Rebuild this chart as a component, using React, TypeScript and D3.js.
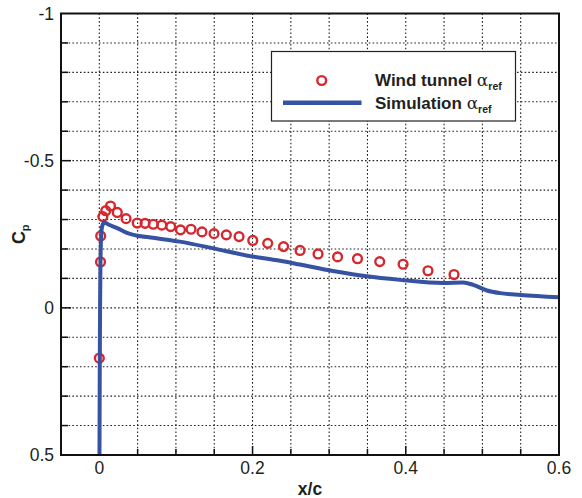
import React from "react";
import * as d3 from "d3";

const windX = [0.0, 0.0016, 0.0018, 0.0046, 0.0084, 0.0146, 0.0235, 0.0349, 0.0495, 0.0597, 0.0704, 0.0816, 0.0932, 0.106, 0.1197, 0.134, 0.1497, 0.1658, 0.1824, 0.2003, 0.2198, 0.2405, 0.262, 0.2855, 0.311, 0.337, 0.366, 0.3965, 0.429, 0.463];
const windCp = [0.171, -0.156, -0.244, -0.31, -0.33, -0.346, -0.324, -0.303, -0.288, -0.287, -0.284, -0.281, -0.276, -0.265, -0.267, -0.258, -0.252, -0.248, -0.242, -0.229, -0.219, -0.208, -0.195, -0.183, -0.173, -0.167, -0.157, -0.148, -0.126, -0.113];

const simX = [0.0002, 0.0006, 0.001, 0.0015, 0.0025, 0.004, 0.007, 0.012, 0.024, 0.038, 0.048, 0.07, 0.105, 0.149, 0.192, 0.236, 0.262, 0.305, 0.349, 0.3925, 0.449, 0.475, 0.488, 0.506, 0.523, 0.55, 0.6];
const simCp = [0.52, 0.2, 0.0, -0.15, -0.25, -0.28, -0.29, -0.283, -0.27, -0.253, -0.246, -0.238, -0.225, -0.202, -0.178, -0.16, -0.147, -0.125, -0.107, -0.095, -0.084, -0.086, -0.078, -0.059, -0.05, -0.044, -0.036];

const xTickLabels = [0, 0.2, 0.4, 0.6];
const yTickLabels = [-1, -0.5, 0, 0.5];
const legendLabels = ["Wind tunnel ", "Simulation "];

const W = 582, H = 498;
const L = 61, R = 559, T = 13.5, B = 455;
const RED = "#d6262e";
const BLUE = "#3552a3";
const TXT = "#231f20";

export default function App() {
  const x = d3.scaleLinear().domain([-0.05, 0.6]).range([L, R]);
  const y = d3.scaleLinear().domain([-1, 0.5]).range([T, B]);
  const xGrid = d3.range(0, 0.6 + 1e-9, 0.05).map((v) => +v.toFixed(2)).filter((v) => v < 0.599);
  const yGrid = d3.range(-0.9, 0.5 - 1e-9, 0.1).map((v) => +v.toFixed(2));
  const yMinor = yGrid.filter((v) => Math.abs(v * 2 - Math.round(v * 2)) > 1e-6);
  const yMajor = [-0.5, 0];
  const xMinor = d3.range(0.05, 0.6, 0.05).map((v) => +v.toFixed(2)).filter((v) => Math.abs(v * 5 - Math.round(v * 5)) > 1e-6);
  const xMajor = [0, 0.2, 0.4];

  const simData = simX.map((v, i) => [v, simCp[i]] as [number, number]);
  const line = d3.line<[number, number]>().x((d) => x(d[0])).y((d) => y(d[1])).curve(d3.curveMonotoneX);

  return (
    <svg width={W} height={H} style={{ position: "absolute", left: 0, top: 0, background: "#fff" }} fontFamily="Liberation Sans, Arial, sans-serif">
      <defs>
        <clipPath id="plot">
          <rect x={L} y={T} width={R - L} height={B - T} />
        </clipPath>
      </defs>
      <rect x={0} y={0} width={W} height={H} fill="#fff" />
      <g stroke="#222" strokeWidth={1.1} strokeDasharray="1.6,2.2">
        {xGrid.map((v) => (
          <line key={"gx" + v} x1={x(v)} x2={x(v)} y1={T} y2={B} />
        ))}
        {yGrid.map((v) => (
          <line key={"gy" + v} x1={L} x2={R} y1={y(v)} y2={y(v)} />
        ))}
      </g>
      <g stroke="#111" strokeWidth={1.5}>
        {yMinor.map((v) => (
          <line key={"ym" + v} x1={L} x2={L + 7} y1={y(v)} y2={y(v)} />
        ))}
        {yMajor.map((v) => (
          <line key={"yM" + v} x1={L} x2={L + 10} y1={y(v)} y2={y(v)} />
        ))}
        {xMinor.map((v) => (
          <line key={"xm" + v} x1={x(v)} x2={x(v)} y1={B} y2={B - 6} />
        ))}
        {xMajor.map((v) => (
          <line key={"xM" + v} x1={x(v)} x2={x(v)} y1={B} y2={B - 9} />
        ))}
      </g>
      <g clipPath="url(#plot)">
        {windX.map((v, i) => (
          <circle key={"w" + i} cx={x(v)} cy={y(windCp[i])} r={4.4} fill="none" stroke={RED} strokeWidth={2.4} />
        ))}
        <path d={line(simData) || ""} fill="none" stroke={BLUE} strokeWidth={4} strokeLinejoin="round" />
      </g>
      <rect x={L} y={T} width={R - L} height={B - T} fill="none" stroke="#111" strokeWidth={2} />
      <g fill={TXT} fontSize={17.5}>
        {xTickLabels.map((v) => (
          <text key={"xl" + v} x={x(v)} y={474} textAnchor="middle">{String(v)}</text>
        ))}
        {yTickLabels.map((v) => (
          <text key={"yl" + v} x={54} y={y(v) + 6} textAnchor="end">{String(v)}</text>
        ))}
      </g>
      <text x={(L + R) / 2} y={495} textAnchor="middle" fontSize={17.5} fontWeight="bold" fill={TXT}>x/c</text>
      <text transform={`translate(25,${(T + B) / 2}) rotate(-90)`} textAnchor="middle" fontSize={18} fontWeight="bold" fill={TXT}>
        C<tspan fontSize={11} dy={4}>p</tspan>
      </text>
      <rect x={271.5} y={51.5} width={244} height={69.5} fill="#fff" stroke="#222" strokeWidth={1.2} />
      <circle cx={321.7} cy={80.5} r={4.4} fill="none" stroke={RED} strokeWidth={2.4} />
      <line x1={283} x2={361.5} y1={102.7} y2={102.7} stroke={BLUE} strokeWidth={4.5} />
      <g fill={TXT} fontWeight="bold" fontSize={17}>
        <text x={375} y={86}>
          {legendLabels[0]}
          <tspan fontWeight="normal" fontFamily="DejaVu Serif, serif" fontSize={17}>α</tspan>
          <tspan fontSize={10.5} dy={4}>ref</tspan>
        </text>
        <text x={375} y={109}>
          {legendLabels[1]}
          <tspan fontWeight="normal" fontFamily="DejaVu Serif, serif" fontSize={17}>α</tspan>
          <tspan fontSize={10.5} dy={4}>ref</tspan>
        </text>
      </g>
    </svg>
  );
}
